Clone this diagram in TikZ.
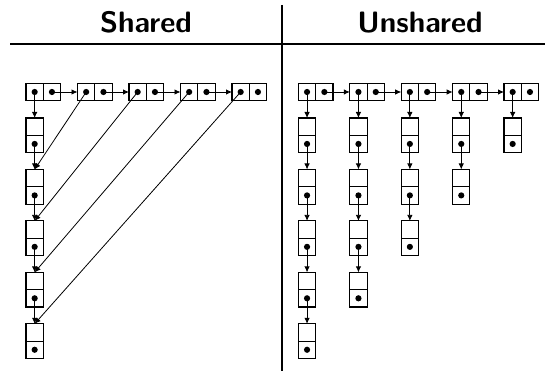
\documentclass[tikz,border=0pt]{standalone}
\usepackage{fontspec}
\usetikzlibrary{arrows.meta}
\tikzset{
  cell/.style={draw, line width=1.1pt, minimum width=17.3pt, minimum height=17.3pt, inner sep=0pt, outer sep=0pt},
  ptr/.style={-{Latex[length=6pt,width=5.5pt]}, line width=0.8pt},
  head/.style={font=\fontsize{29.5}{34}\selectfont\sffamily\bfseries, anchor=base, inner sep=0pt},
  rule/.style={line width=2.2pt}
}
\newcommand{\celldot}[1]{\fill (#1.center) circle (3.1pt);}
\begin{document}
\begin{tikzpicture}[x=1pt,y=-1pt]
\useasboundingbox (0,0) rectangle (545,371);
% headings and rules
\node[head] (hs) at (146,32.3) {Shared};
\node[head] (hu) at (420,32.3) {Unshared};
\coordinate (hl) at (10,44);
\coordinate (hr) at (545,44);
\coordinate (vt) at (282,5);
\coordinate (vb) at (282,371);
\draw[rule] (hl) -- (hr);
\draw[rule] (vt) -- (vb);

% ---------- Shared ----------
\foreach \i in {1,...,5} {
  \node[cell] (S-a\i) at ({26+8.65+51.5*(\i-1)},92) {};
  \node[cell, anchor=west] (S-b\i) at (S-a\i.east) {};
  \celldot{S-a\i}
  \celldot{S-b\i}
  \node[cell] (S-t\i) at (34.65,{118+8.65+51.45*(\i-1)}) {};
  \node[cell, anchor=north] (S-u\i) at (S-t\i.south) {};
  \celldot{S-u\i}
}
\foreach \i [evaluate=\i as \k using int(\i+1)] in {1,...,4} {
  \draw[ptr] (S-b\i.center) -- (S-a\k.west);
  \draw[ptr] (S-u\i.center) -- (S-t\k.north);
  \draw[ptr] (S-a\k.center) -- (S-t\k.north);
}
\draw[ptr] (S-a1.center) -- (S-t1.north);

% ---------- Unshared ----------
\foreach \i in {1,...,5} {
  \node[cell] (U-a\i) at ({298.4+8.65+51.4*(\i-1)},92) {};
  \node[cell, anchor=west] (U-b\i) at (U-a\i.east) {};
  \celldot{U-a\i}
  \celldot{U-b\i}
  \pgfmathtruncatemacro\n{6-\i}
  \foreach \j in {1,...,\n} {
    \node[cell] (U-t\i-\j) at ({298.4+8.65+51.4*(\i-1)},{118+8.65+51.45*(\j-1)}) {};
    \node[cell, anchor=north] (U-u\i-\j) at (U-t\i-\j.south) {};
    \celldot{U-u\i-\j}
    \ifnum\j>1
      \pgfmathtruncatemacro\jm{\j-1}
      \draw[ptr] (U-u\i-\jm.center) -- (U-t\i-\j.north);
    \fi
  }
  \draw[ptr] (U-a\i.center) -- (U-t\i-1.north);
}
\foreach \i [evaluate=\i as \k using int(\i+1)] in {1,...,4} {
  \draw[ptr] (U-b\i.center) -- (U-a\k.west);
}
\end{tikzpicture}
\end{document}
